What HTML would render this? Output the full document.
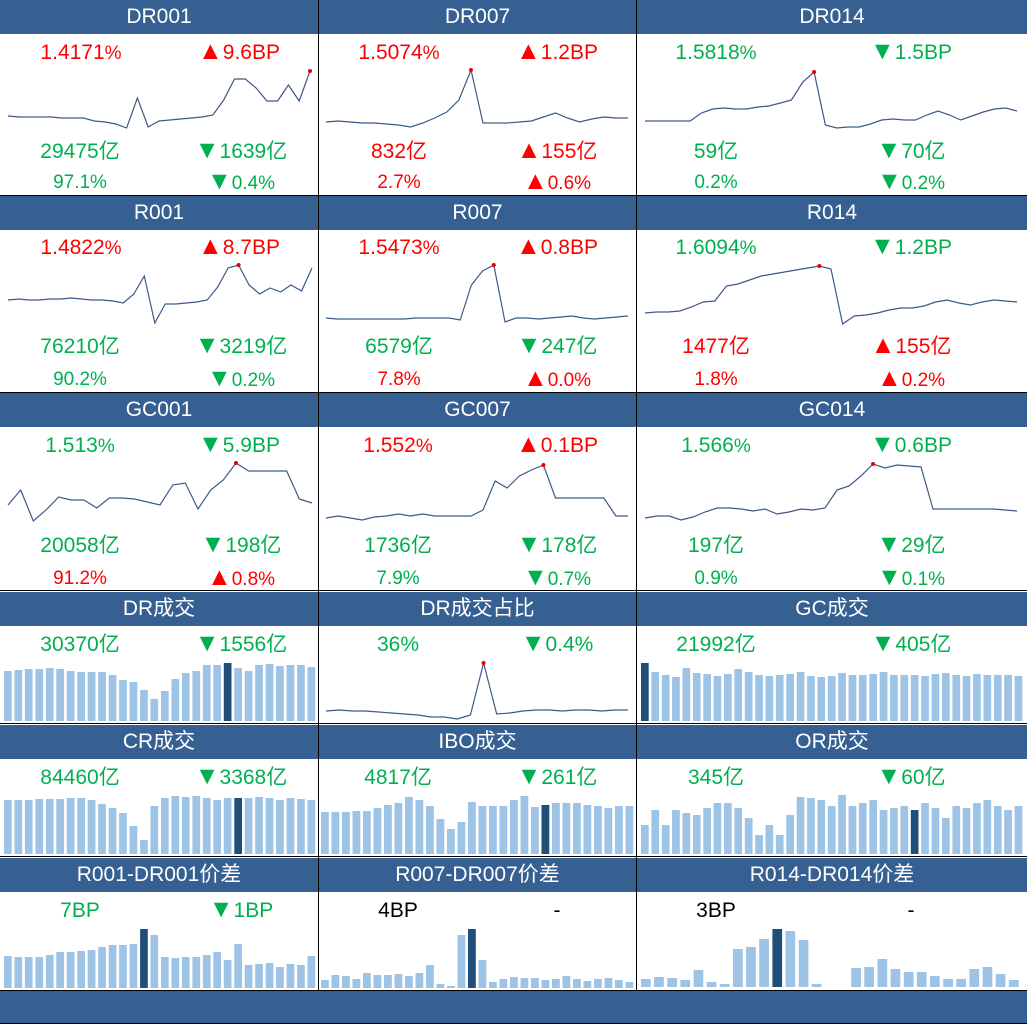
<!DOCTYPE html>
<html><head><meta charset="utf-8"><style>
body{margin:0;width:1027px;height:1025px;background:#fff;position:relative;overflow:hidden;font-family:"Liberation Sans","Noto Sans CJK SC",sans-serif}
.h{position:absolute;background:#376092;color:#fff;font-size:21px;text-align:center;line-height:34px;height:34px}
.t{position:absolute;font-size:21px;transform:translateX(-50%);white-space:nowrap;line-height:24px}
.t b{font-weight:normal;font-size:25px;line-height:20px}
.s{font-size:19px}
.g{color:#00b050}.r{color:#ff0000}.k{color:#000}
.vl{position:absolute;width:1px;background:#000}
.hl{position:absolute;height:1px;background:#000;left:0;width:1027px}
svg{position:absolute;left:0;top:0}
</style></head><body>
<div class="h" style="left:0;top:0;width:318px">DR001</div>
<div class="h" style="left:319px;top:0;width:317px">DR007</div>
<div class="h" style="left:637px;top:0;width:390px">DR014</div>
<div class="h" style="left:0;top:196px;width:318px">R001</div>
<div class="h" style="left:319px;top:196px;width:317px">R007</div>
<div class="h" style="left:637px;top:196px;width:390px">R014</div>
<div class="h" style="left:0;top:393px;width:318px">GC001</div>
<div class="h" style="left:319px;top:393px;width:317px">GC007</div>
<div class="h" style="left:637px;top:393px;width:390px">GC014</div>
<div class="h" style="left:0;top:592px;width:318px">DR成交</div>
<div class="h" style="left:319px;top:592px;width:317px">DR成交占比</div>
<div class="h" style="left:637px;top:592px;width:390px">GC成交</div>
<div class="h" style="left:0;top:725px;width:318px">CR成交</div>
<div class="h" style="left:319px;top:725px;width:317px">IBO成交</div>
<div class="h" style="left:637px;top:725px;width:390px">OR成交</div>
<div class="h" style="left:0;top:858px;width:318px">R001-DR001价差</div>
<div class="h" style="left:319px;top:858px;width:317px">R007-DR007价差</div>
<div class="h" style="left:637px;top:858px;width:390px">R014-DR014价差</div>
<div class="h" style="left:0;top:991px;width:1027px;height:32px"></div>

<!-- row1 -->
<div class="t r" style="left:81px;top:41px">1.4171<span class="s">%</span></div>
<div class="t r" style="left:239px;top:41px"><b>▲</b>9.6BP</div>
<div class="t g" style="left:80px;top:140px">29475亿</div>
<div class="t g" style="left:241px;top:140px"><b>▼</b>1639亿</div>
<div class="t g s" style="left:80px;top:171px">97.1%</div>
<div class="t g s" style="left:241px;top:171px"><b>▼</b>0.4%</div>
<div class="t r" style="left:399px;top:41px">1.5074<span class="s">%</span></div>
<div class="t r" style="left:557px;top:41px"><b>▲</b>1.2BP</div>
<div class="t r" style="left:399px;top:140px">832亿</div>
<div class="t r" style="left:557px;top:140px"><b>▲</b>155亿</div>
<div class="t r s" style="left:399px;top:171px">2.7%</div>
<div class="t r s" style="left:557px;top:171px"><b>▲</b>0.6%</div>
<div class="t g" style="left:716px;top:41px">1.5818<span class="s">%</span></div>
<div class="t g" style="left:911px;top:41px"><b>▼</b>1.5BP</div>
<div class="t g" style="left:716px;top:140px">59亿</div>
<div class="t g" style="left:911px;top:140px"><b>▼</b>70亿</div>
<div class="t g s" style="left:716px;top:171px">0.2%</div>
<div class="t g s" style="left:911px;top:171px"><b>▼</b>0.2%</div>
<!-- row2 -->
<div class="t r" style="left:81px;top:236px">1.4822<span class="s">%</span></div>
<div class="t r" style="left:239px;top:236px"><b>▲</b>8.7BP</div>
<div class="t g" style="left:80px;top:335px">76210亿</div>
<div class="t g" style="left:241px;top:335px"><b>▼</b>3219亿</div>
<div class="t g s" style="left:80px;top:368px">90.2%</div>
<div class="t g s" style="left:241px;top:368px"><b>▼</b>0.2%</div>
<div class="t r" style="left:399px;top:236px">1.5473<span class="s">%</span></div>
<div class="t r" style="left:557px;top:236px"><b>▲</b>0.8BP</div>
<div class="t g" style="left:399px;top:335px">6579亿</div>
<div class="t g" style="left:557px;top:335px"><b>▼</b>247亿</div>
<div class="t r s" style="left:399px;top:368px">7.8%</div>
<div class="t r s" style="left:557px;top:368px"><b>▲</b>0.0%</div>
<div class="t g" style="left:716px;top:236px">1.6094<span class="s">%</span></div>
<div class="t g" style="left:911px;top:236px"><b>▼</b>1.2BP</div>
<div class="t r" style="left:716px;top:335px">1477亿</div>
<div class="t r" style="left:911px;top:335px"><b>▲</b>155亿</div>
<div class="t r s" style="left:716px;top:368px">1.8%</div>
<div class="t r s" style="left:911px;top:368px"><b>▲</b>0.2%</div>
<!-- row3 -->
<div class="t g" style="left:80px;top:434px">1.513<span class="s">%</span></div>
<div class="t g" style="left:239px;top:434px"><b>▼</b>5.9BP</div>
<div class="t g" style="left:80px;top:534px">20058亿</div>
<div class="t g" style="left:241px;top:534px"><b>▼</b>198亿</div>
<div class="t r s" style="left:80px;top:567px">91.2%</div>
<div class="t r s" style="left:241px;top:567px"><b>▲</b>0.8%</div>
<div class="t r" style="left:398px;top:434px">1.552<span class="s">%</span></div>
<div class="t r" style="left:557px;top:434px"><b>▲</b>0.1BP</div>
<div class="t g" style="left:398px;top:534px">1736亿</div>
<div class="t g" style="left:557px;top:534px"><b>▼</b>178亿</div>
<div class="t g s" style="left:398px;top:567px">7.9%</div>
<div class="t g s" style="left:557px;top:567px"><b>▼</b>0.7%</div>
<div class="t g" style="left:716px;top:434px">1.566<span class="s">%</span></div>
<div class="t g" style="left:911px;top:434px"><b>▼</b>0.6BP</div>
<div class="t g" style="left:716px;top:534px">197亿</div>
<div class="t g" style="left:911px;top:534px"><b>▼</b>29亿</div>
<div class="t g s" style="left:716px;top:567px">0.9%</div>
<div class="t g s" style="left:911px;top:567px"><b>▼</b>0.1%</div>
<!-- row4-6 -->
<div class="t g" style="left:80px;top:633px">30370亿</div>
<div class="t g" style="left:241px;top:633px"><b>▼</b>1556亿</div>
<div class="t g" style="left:398px;top:633px">36%</div>
<div class="t g" style="left:557px;top:633px"><b>▼</b>0.4%</div>
<div class="t g" style="left:716px;top:633px">21992亿</div>
<div class="t g" style="left:911px;top:633px"><b>▼</b>405亿</div>
<div class="t g" style="left:80px;top:766px">84460亿</div>
<div class="t g" style="left:241px;top:766px"><b>▼</b>3368亿</div>
<div class="t g" style="left:398px;top:766px">4817亿</div>
<div class="t g" style="left:557px;top:766px"><b>▼</b>261亿</div>
<div class="t g" style="left:716px;top:766px">345亿</div>
<div class="t g" style="left:911px;top:766px"><b>▼</b>60亿</div>
<div class="t g" style="left:80px;top:899px">7BP</div>
<div class="t g" style="left:241px;top:899px"><b>▼</b>1BP</div>
<div class="t k" style="left:398px;top:899px">4BP</div>
<div class="t k" style="left:557px;top:899px">-</div>
<div class="t k" style="left:716px;top:899px">3BP</div>
<div class="t k" style="left:911px;top:899px">-</div>

<svg id="sv" width="1027" height="1025"></svg>

<div class="vl" style="left:318px;top:0;height:991px"></div>
<div class="vl" style="left:636px;top:0;height:991px"></div>
<div class="hl" style="top:195px"></div>
<div class="hl" style="top:392px"></div>
<div class="hl" style="top:590px"></div>
<div class="hl" style="top:723px"></div>
<div class="hl" style="top:856px"></div>
<div class="hl" style="top:990px"></div>
<div class="hl" style="top:1023px"></div>
<script>
var sv=document.getElementById('sv'),h='';
function line(x0,x1,ys){var n=ys.length,p=[],mi=0;for(var i=0;i<n;i++){var x=x0+(x1-x0)*i/(n-1);p.push(x.toFixed(1)+','+ys[i]);if(ys[i]<ys[mi])mi=i;}
h+='<polyline points="'+p.join(' ')+'" fill="none" stroke="#3d5a87" stroke-width="1.2"/>';
h+='<circle cx="'+(x0+(x1-x0)*mi/(n-1))+'" cy="'+ys[mi]+'" r="2" fill="#e00"/>';}
function bars(x0,x1,base,tops,d){var n=tops.length,pw=(x1-x0)/n,w=pw*0.74;for(var i=0;i<n;i++){if(tops[i]>=base)continue;
h+='<rect x="'+(x0+i*pw).toFixed(1)+'" y="'+tops[i]+'" width="'+w.toFixed(1)+'" height="'+(base-tops[i])+'" fill="'+(i==d?'#1f4e79':'#9dc3e6')+'"/>';}}
line(8,310,[116,117,117,117,117,118,118,118,121,122,124,128,98,127,121,120,119,118,117,115,100,79,79,88,101,101,85,101,71]);
line(326,628,[122,121,122,123,123,124,125,127,123,118,112,100,70,123,123,123,122,121,117,113,118,122,119,117,118,118]);
line(645,1017,[121,121,121,121,121,113,109,108,109,109,107,106,103,100,82,72,125,128,127,127,124,120,119,120,120,115,111,115,120,116,112,109,108,111]);
line(8,312,[300,299,300,300,299,299,298,299,300,300,301,303,294,276,323,304,304,303,302,300,287,268,265,285,294,288,292,285,291,268]);
line(326,628,[318,319,319,319,319,319,319,319,318,318,318,318,320,285,271,265,322,318,318,319,318,317,316,318,319,318,317,316]);
line(645,1017,[313,312,312,311,307,302,301,286,284,280,276,274,272,270,268,266,269,324,316,315,313,310,308,308,306,302,300,303,305,302,300,301,302]);
line(8,312,[505,490,521,510,497,500,500,508,498,498,499,502,505,485,483,509,490,480,463,471,471,471,471,499,503]);
line(326,628,[518,516,518,520,517,516,514,516,514,516,516,516,516,510,481,488,476,470,465,498,498,498,498,498,516,516]);
line(645,1017,[518,516,516,520,517,512,508,508,509,511,509,514,512,509,510,508,490,486,476,464,468,465,466,467,509,509,509,509,509,509,510,511]);
line(326,628,[711,710,711,711,712,713,714,715,717,717,719,715,663,714,713,711,710,710,711,710,710,711,710,710]);
bars(4,318,721,[671,670,669,669,668,669,671,672,672,672,675,680,682,690,699,691,679,673,671,665,665,663,668,671,665,664,666,665,665,667],21);
bars(641,1025,721,[663,672,675,677,668,673,674,676,674,669,672,675,676,675,674,672,676,677,676,673,675,675,674,672,675,675,675,676,674,673,675,676,674,675,675,675,676],0);
bars(4,318,854,[800,800,800,799,799,799,798,798,800,804,808,813,826,840,806,798,796,797,796,798,800,798,798,798,797,798,800,798,799,800],22);
bars(321,636,854,[812,812,812,811,811,808,805,803,797,800,806,819,829,822,802,806,806,806,800,796,807,805,803,803,803,805,806,808,806,806],21);
bars(641,1025,854,[825,810,825,810,813,815,808,803,803,808,818,835,825,835,815,797,798,800,806,795,806,803,800,810,808,806,810,803,808,818,806,808,803,800,806,810,806],26);
bars(4,318,988,[956,957,957,957,955,952,952,951,950,947,945,945,944,929,935,957,958,957,957,955,952,960,944,965,964,963,967,964,965,956],13);
bars(321,636,988,[980,975,976,979,973,975,975,974,976,973,965,984,986,935,929,960,982,979,977,978,978,980,979,976,979,981,979,978,980,982],14);
bars(641,1022,987,[979,977,978,980,970,982,984,949,947,939,929,931,940,984,999,999,968,967,959,969,972,972,976,979,979,969,967,974,980],10);
sv.innerHTML=h;
</script>
</body></html>
